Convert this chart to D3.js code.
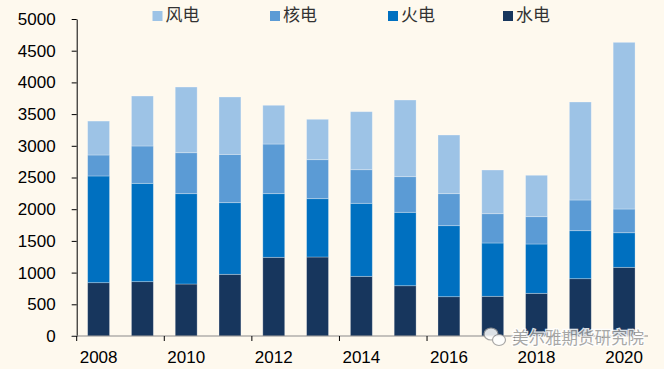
<!DOCTYPE html>
<html>
<head>
<meta charset="utf-8">
<script src="https://cdn.jsdelivr.net/npm/d3@7"></script>
<style>
  html, body { margin: 0; padding: 0; background: #fef9ee; }
  svg { display: block; font-family: "Liberation Sans", Arial, sans-serif; }
</style>
</head>
<body>
<div id="chart"></div>
<script>
const years = [2008, 2009, 2010, 2011, 2012, 2013, 2014, 2015, 2016, 2017, 2018, 2019, 2020];
const hydro   = [841, 857, 820, 973, 1241, 1246, 941, 793, 620, 626, 673, 904, 1083];
const thermal = [1683, 1551, 1425, 1130, 1004, 920, 1152, 1158, 1120, 841, 778, 757, 546];
const nuclear = [331, 589, 646, 762, 783, 615, 530, 562, 505, 462, 431, 484, 374];
const wind    = [535, 788, 1036, 905, 611, 637, 915, 1209, 925, 689, 653, 1546, 2629];
const seriesNames = ["水电", "火电", "核电", "风电"];
const colors = ["#17365d", "#0070c0", "#5b9bd5", "#9dc3e6"];
const yTicks = [0, 500, 1000, 1500, 2000, 2500, 3000, 3500, 4000, 4500, 5000];
const xLabels = [2008, 2010, 2012, 2014, 2016, 2018, 2020];

const width = 664, height = 369;
const margin = {left: 76.7, right: 18, top: 19, bottom: 33};

const rows = years.map((y, i) => ({year: y, "水电": hydro[i], "火电": thermal[i], "核电": nuclear[i], "风电": wind[i]}));
const stacked = d3.stack().keys(seriesNames)(rows);

const svg = d3.select("#chart").append("svg")
  .attr("width", width)
  .attr("height", height);

const x = d3.scaleBand()
  .domain(years)
  .range([margin.left, width - margin.right])
  .paddingInner(0.5)
  .paddingOuter(0.25);

const y = d3.scaleLinear()
  .domain([0, 5000])
  .range([height - margin.bottom, margin.top]);

// bars
svg.append("g")
  .selectAll("g")
  .data(stacked)
  .join("g")
    .attr("fill", (d, i) => colors[i])
  .selectAll("rect")
  .data(d => d)
  .join("rect")
    .attr("x", d => x(d.data.year))
    .attr("y", d => y(d[1]))
    .attr("width", x.bandwidth())
    .attr("height", d => y(d[0]) - y(d[1]))
    .attr("stroke", "rgba(255,255,255,0.35)")
    .attr("stroke-width", 0.8);

// y axis
const yAxis = svg.append("g")
  .attr("transform", `translate(${margin.left},0)`)
  .call(d3.axisLeft(y).tickValues(yTicks).tickFormat(d3.format("d"))
    .tickSize(5).tickPadding(16).tickSizeOuter(0));
yAxis.select(".domain").attr("stroke", "#000");
yAxis.selectAll(".tick line").attr("stroke", "#000");
yAxis.selectAll("text").attr("font-size", 17).attr("fill", "#000")
  .attr("font-family", "'Liberation Sans', Arial, sans-serif");

// x axis line
const step = x.step();
const x0 = y(0);
svg.append("line")
  .attr("x1", margin.left - 5).attr("x2", width - margin.right + 2)
  .attr("y1", x0).attr("y2", x0)
  .attr("stroke", "#8a8a8a").attr("stroke-width", 1.2);

// ticks at band boundaries every two years
svg.append("g")
  .selectAll("line")
  .data(xLabels)
  .join("line")
    .attr("x1", d => x(d) - step * 0.25)
    .attr("x2", d => x(d) - step * 0.25)
    .attr("y1", x0).attr("y2", x0 + 5)
    .attr("stroke", "#000");

svg.append("g")
  .selectAll("text")
  .data(xLabels)
  .join("text")
    .attr("x", d => x(d) + x.bandwidth() / 2)
    .attr("y", x0 + 27)
    .attr("text-anchor", "middle")
    .attr("font-size", 17)
    .attr("fill", "#000")
    .text(d => d);

// legend
const legendOrder = ["风电", "核电", "火电", "水电"];
const legendX = [152.5, 270, 388, 503];
const legend = svg.append("g")
  .selectAll("g")
  .data(legendOrder)
  .join("g")
    .attr("transform", (d, i) => `translate(${legendX[i]},11)`);
legend.append("rect")
  .attr("width", 10).attr("height", 10)
  .attr("fill", d => colors[seriesNames.indexOf(d)]);
legend.append("text")
  .attr("x", 13).attr("y", 10)
  .attr("font-size", 17)
  .attr("fill", "#333")
  .attr("font-family", "'Noto Sans CJK SC', sans-serif")
  .text(d => d);

// watermark
const wm = svg.append("g").attr("opacity", 0.85);
wm.append("ellipse").attr("cx", 491).attr("cy", 334).attr("rx", 7).attr("ry", 6)
  .attr("fill", "#fff").attr("stroke", "#999").attr("stroke-width", 1.2);
wm.append("ellipse").attr("cx", 499).attr("cy", 340).attr("rx", 6.5).attr("ry", 5.5)
  .attr("fill", "#fff").attr("stroke", "#999").attr("stroke-width", 1.2);
wm.append("text")
  .attr("x", 512).attr("y", 344)
  .attr("font-size", 16.5)
  .attr("font-family", "'Noto Sans CJK SC', sans-serif")
  .attr("fill", "#9a9a9a")
  .attr("stroke", "#fff").attr("stroke-width", 2.5)
  .attr("paint-order", "stroke")
  .text("美尔雅期货研究院");
</script>
</body>
</html>
